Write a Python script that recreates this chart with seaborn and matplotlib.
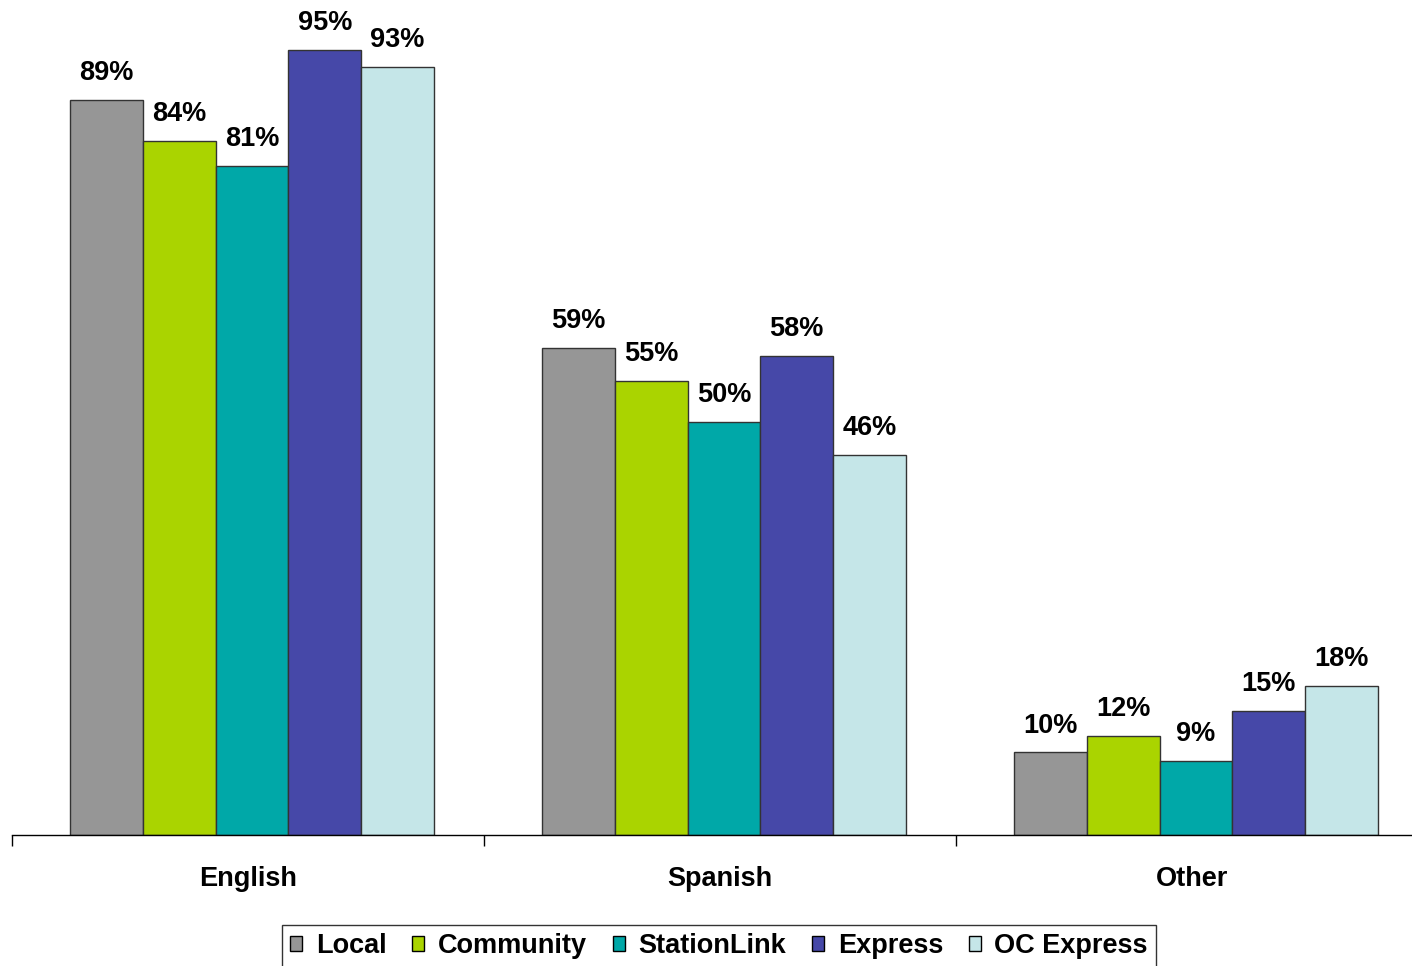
"""Grouped bar chart: language by service type."""

import matplotlib.pyplot as plt
import pandas as pd
import seaborn as sns
from matplotlib.ticker import FixedLocator

categories = ["English", "Spanish", "Other"]
services = ["Local", "Community", "StationLink", "Express", "OC Express"]
local = [89, 59, 10]
community = [84, 55, 12]
stationlink = [81, 50, 9]
express = [95, 58, 15]
oc_express = [93, 46, 18]
colors = ["#969696", "#AAD400", "#00A8A8", "#4648A8", "#C5E6E8"]

sns.set_theme(style="white")
plt.rcParams["font.family"] = ["Liberation Sans", "DejaVu Sans"]
plt.rcParams["font.weight"] = "bold"
plt.rcParams["text.color"] = "black"
plt.rcParams["xtick.color"] = "black"

series = [local, community, stationlink, express, oc_express]
rows = []
for name, vals in zip(services, series):
    for cat, v in zip(categories, vals):
        rows.append({"Language": cat, "Service": name, "Pct": v})
df = pd.DataFrame(rows)

fig = plt.figure(figsize=(14.12, 9.66), dpi=100)
# axes run a little past the right edge, as in the original export
ax = fig.add_axes([12 / 1412, 1 - 835 / 966, 1420 / 1412, 826 / 966])

sns.barplot(
    data=df, x="Language", y="Pct", hue="Service", order=categories,
    hue_order=services, palette=dict(zip(services, colors)), width=0.77,
    saturation=1, edgecolor="#333333", linewidth=1, ax=ax,
)

for cont, vals in zip(ax.containers, series):
    ax.bar_label(cont, labels=[f"{v}%" for v in vals], padding=10,
                 fontsize=19.5, fontweight="bold", color="black", clip_on=False)

# bars sit slightly right of the group centre in the original
shift = 0.0085
ax.set_xlim(-0.5 - shift, 2.5)
ax.set_ylim(0, 100)
ax.set_xlabel("")
ax.set_ylabel("")
ax.set_yticks([])
for side in ["top", "right", "left"]:
    ax.spines[side].set_visible(False)
ax.spines["bottom"].set_color("black")
ax.spines["bottom"].set_linewidth(1)

ax.set_xticks([i - shift for i in range(len(categories))], categories)
ax.xaxis.set_minor_locator(FixedLocator([-0.5 - shift, 0.5 - shift, 1.5 - shift]))
ax.tick_params(axis="x", which="major", length=0, pad=22, labelsize=19.5,
               labelcolor="black")
ax.tick_params(axis="x", which="minor", bottom=True, length=8, width=1,
               color="black", direction="out")
for lbl in ax.get_xticklabels():
    lbl.set_fontweight("bold")

handles, labels = ax.get_legend_handles_labels()
ax.get_legend().remove()
leg = fig.legend(
    handles, labels, loc="upper center", bbox_to_anchor=(719 / 1412, 1 - 925 / 966),
    ncol=5, fontsize=19.5, frameon=True, fancybox=False, edgecolor="black",
    handlelength=0.45, handleheight=0.45, handletextpad=0.5,
    columnspacing=0.95, borderpad=0.3, borderaxespad=0,
)
leg.get_frame().set_linewidth(1)
for t in leg.get_texts():
    t.set_fontweight("bold")
    t.set_color("black")
for h in leg.legend_handles:
    h.set_edgecolor("black")

fig.savefig("out.png", dpi=100)
